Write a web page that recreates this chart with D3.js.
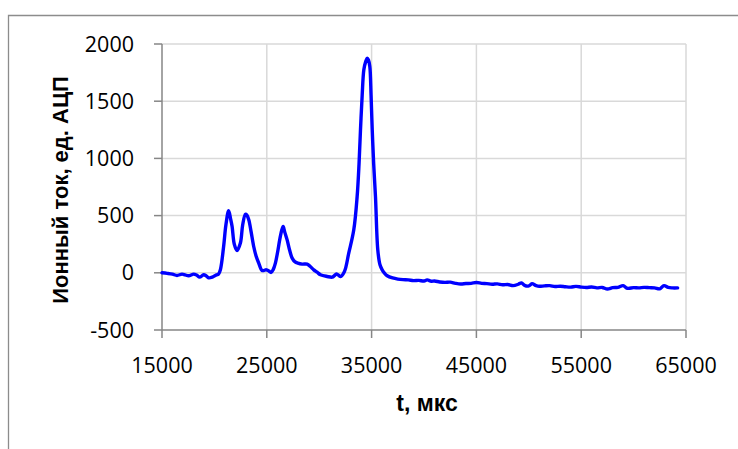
<!DOCTYPE html>
<html><head><meta charset="utf-8">
<script src="https://cdn.jsdelivr.net/npm/d3@7"></script>
<style>body{margin:0;background:#fff}svg{display:block}</style>
</head><body>
<svg id="c" width="738" height="449"></svg>
<script>
const xTicks = [15000, 25000, 35000, 45000, 55000, 65000];
const yTicks = [-500, 0, 500, 1000, 1500, 2000];
const xTitle = "t, мкс";
const yTitle = "Ионный ток, ед. АЦП";
const tValues = [15000,15500,16000,16430,16910,17200,17540,18020,18300,18590,18970,19200,19450,19800,20090,20400,20570,20880,21100,21360,21550,21690,21900,22160,22480,22700,22960,23100,23280,23500,23750,24000,24230,24550,24960,25200,25410,25620,25820,26030,26230,26420,26560,26700,26940,27200,27420,27700,27950,28370,28850,29150,29480,29800,30120,30760,31240,31450,31650,32030,32410,32820,33300,33620,33800,33940,34100,34260,34450,34580,34700,34830,34950,35060,35200,35370,35590,35800,36010,36250,36490,37000,37500,38000,38500,39000,39500,40000,40300,40700,41000,41500,42000,42500,43000,43500,44000,44500,45000,45500,46000,46500,47000,47500,48000,48500,49000,49300,49600,50000,50300,50700,51000,51500,52000,52500,53000,53500,54000,54500,55000,55500,56000,56500,57000,57500,58000,58500,59000,59400,60000,60500,61000,61500,62000,62500,62900,63300,63700,64200];
const iValues = [0,-5,-12,-23,-12,-18,-26,-12,-20,-38,-17,-25,-44,-38,-23,-10,26,230,420,542,470,405,250,195,260,420,512,505,463,360,230,140,85,20,26,15,3,30,85,180,288,370,405,360,288,190,128,95,85,76,76,55,26,5,-17,-32,-38,-25,-9,-32,12,172,376,667,950,1250,1550,1774,1850,1876,1860,1803,1550,1250,950,667,201,70,26,-5,-26,-45,-55,-60,-62,-68,-66,-72,-62,-74,-72,-80,-84,-82,-92,-98,-94,-92,-85,-92,-95,-100,-97,-105,-102,-112,-100,-88,-110,-115,-95,-112,-118,-114,-112,-120,-117,-122,-125,-119,-125,-128,-124,-132,-128,-142,-130,-127,-112,-135,-130,-132,-127,-130,-132,-140,-112,-128,-132,-132];

const data = tValues.map((t, i) => ({t, v: iValues[i]}));
const svg = d3.select("#c");
const L = 162, R = 686, T = 44, B = 330;
const x = d3.scaleLinear().domain([15000, 65000]).range([L, R]);
const y = d3.scaleLinear().domain([-500, 2000]).range([B, T]);

// outer frame (left & top visible)
svg.append("path").attr("d", `M8.5,449V15.5H738`).attr("fill","none").attr("stroke","#8c8c8c").attr("stroke-width",1.3);

// gridlines
const g = svg.append("g");
g.selectAll(".hg").data(yTicks.filter(d => d > -500)).join("line")
  .attr("x1", L).attr("x2", R).attr("y1", d => y(d)).attr("y2", d => y(d))
  .attr("stroke", "#d9d9d9").attr("stroke-width", 1.5);
g.selectAll(".vg").data(xTicks.filter(d => d > 15000)).join("line")
  .attr("x1", d => x(d)).attr("x2", d => x(d)).attr("y1", T).attr("y2", B)
  .attr("stroke", "#d9d9d9").attr("stroke-width", 1.5);

// axes
const axCol = "#868686";
svg.append("line").attr("x1", L).attr("x2", L).attr("y1", T).attr("y2", B).attr("stroke", axCol).attr("stroke-width", 1.5);
svg.append("line").attr("x1", L).attr("x2", R).attr("y1", B).attr("y2", B).attr("stroke", axCol).attr("stroke-width", 1.5);
svg.selectAll(".yt").data(yTicks).join("line")
  .attr("x1", L - 8).attr("x2", L).attr("y1", d => y(d)).attr("y2", d => y(d))
  .attr("stroke", axCol).attr("stroke-width", 1.5);
svg.selectAll(".xt").data(xTicks).join("line")
  .attr("x1", d => x(d)).attr("x2", d => x(d)).attr("y1", B).attr("y2", B + 8)
  .attr("stroke", axCol).attr("stroke-width", 1.5);

// tick labels
svg.selectAll(".yl").data(yTicks).join("text")
  .attr("x", 134).attr("y", d => y(d) + 7.5).attr("text-anchor", "end")
  .attr("font-family", "'Open Sans', sans-serif").attr("font-size", 21.5).attr("fill", "#000")
  .text(d => d);
svg.selectAll(".xl").data(xTicks).join("text")
  .attr("x", d => x(d)).attr("y", 373).attr("text-anchor", "middle")
  .attr("font-family", "'Open Sans', sans-serif").attr("font-size", 21.5).attr("fill", "#000")
  .text(d => d);

// titles
svg.append("text").attr("x", 427).attr("y", 411).attr("text-anchor", "middle")
  .attr("font-family", "'Liberation Sans', Arial, sans-serif").attr("font-weight", "bold").attr("font-size", 23)
  .text(xTitle);
svg.append("text").attr("transform", "translate(67.5,190) rotate(-90)").attr("text-anchor", "middle")
  .attr("font-family", "'Liberation Sans', Arial, sans-serif").attr("font-weight", "bold").attr("font-size", 22)
  .text(yTitle);

// series
const line = d3.line().x(d => x(d.t)).y(d => y(d.v)).curve(d3.curveCatmullRom.alpha(0.5));
svg.append("path").datum(data).attr("d", line).attr("fill", "none")
  .attr("stroke", "#0000ff").attr("stroke-width", 3.4).attr("stroke-linejoin", "round").attr("stroke-linecap", "round");
</script>
</body></html>
